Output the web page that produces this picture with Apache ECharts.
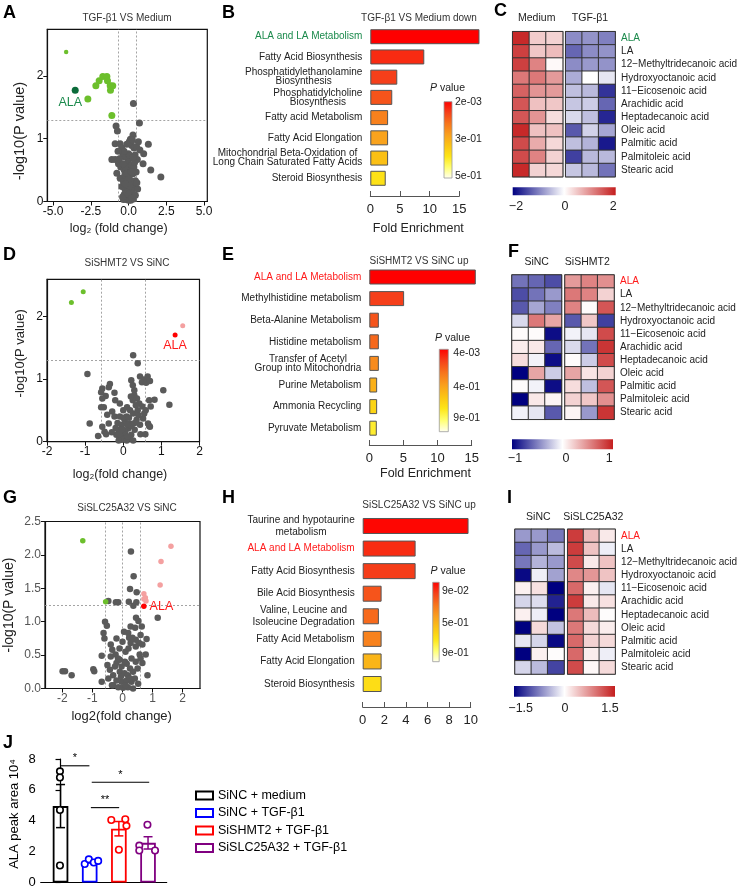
<!DOCTYPE html>
<html><head><meta charset="utf-8">
<script src="https://cdn.jsdelivr.net/npm/echarts@6/dist/echarts.min.js"></script>
<style>html,body{margin:0;padding:0;background:#fff}#c{width:740px;height:889px}</style>
</head><body><div id="c"></div>
<script>
// ================= DATA =================
// Panel A volcano (TGF-β1 VS Medium)
const aGray = [[-0.83,1.20],[-0.74,1.12],[0.32,1.56],[0.72,1.25],[0.29,1.06],[0.12,0.99],[-0.89,0.92],[-0.56,0.92],[-0.45,0.85],[-0.12,0.91],[0.21,0.89],[0.36,0.85],[0.53,0.87],[0.75,0.82],[1.31,0.91],[1.00,0.76],[-1.11,0.67],[-0.89,0.67],[-0.38,0.74],[-0.23,0.71],[0.00,0.76],[0.14,0.69],[0.43,0.74],[0.58,0.67],[0.96,0.60],[1.47,0.50],[2.14,0.39],[-0.67,0.60],[-0.52,0.55],[-0.78,0.45],[-0.29,0.50],[-0.12,0.44],[0.10,0.52],[0.29,0.44],[0.50,0.47],[-0.56,0.37],[-0.34,0.32],[-0.17,0.35],[0.00,0.29],[0.17,0.32],[0.36,0.26],[-0.45,0.24],[-0.23,0.19],[-0.06,0.21],[0.10,0.16],[0.25,0.20],[-0.29,0.11],[-0.12,0.08],[0.03,0.05],[0.17,0.09],[0.32,0.04],[-0.17,0.03],[0.00,0.02],[-0.34,0.03],[0.14,0.02],[-0.05,0.62],[0.05,0.40],[-0.20,0.55],[0.20,0.58],[-0.10,0.27],[0.25,0.12],[-0.25,0.42],[0.45,0.33],[0.60,0.20],[-0.40,0.07],[0.35,0.55],[0.08,0.73],[-0.30,0.80],[0.05,0.95],[0.65,0.95],[0.25,0.98],[-0.15,0.15],[0.12,0.33],[0.00,0.12],[-0.08,0.45],[0.18,0.47],[-0.60,0.68],[-0.70,0.80],[0.40,0.62],[0.55,0.30],[-0.05,0.35],[0.08,0.25],[0.20,0.05],[-0.22,0.28],[0.30,0.70],[-0.35,0.60],[0.45,0.10]];
const aGreen = [[-2.70,1.63],[-2.17,1.84],[-1.95,1.92],[-1.71,1.99],[-1.44,1.99],[-1.40,1.92],[-1.22,1.84],[-1.05,1.84],[-1.20,1.77],[-1.11,1.37]];
const aGreenSmall = [[-4.14,2.38]];
const aAla = [[-3.54,1.77]];
const aVLines = [-0.68, 0.5];
const aHLine = 1.301;

// Panel D volcano (SiSHMT2 VS SiNC)
const dGray = [[0.26,1.38],[0.38,1.25],[-0.94,1.08],[0.44,1.04],[0.54,0.99],[0.64,1.04],[0.49,0.95],[0.60,0.94],[0.70,0.97],[0.21,0.98],[0.25,0.90],[0.29,0.82],[0.29,0.74],[0.36,0.69],[0.25,0.66],[0.42,0.61],[0.50,0.56],[0.68,0.66],[0.72,0.56],[0.59,0.50],[0.82,0.67],[1.05,0.82],[1.21,0.59],[-0.55,0.85],[-0.58,0.79],[-0.35,0.92],[-0.38,0.87],[-0.46,0.73],[-0.55,0.69],[-0.23,0.78],[-0.21,0.66],[-0.58,0.55],[-0.51,0.55],[-0.42,0.43],[-0.29,0.48],[-0.23,0.40],[-0.38,0.29],[-0.55,0.24],[-0.88,0.29],[-0.49,0.16],[-0.66,0.09],[-0.45,0.12],[-0.09,0.61],[0.00,0.50],[-0.09,0.40],[0.04,0.35],[-0.04,0.27],[-0.13,0.19],[0.00,0.13],[0.13,0.21],[0.17,0.29],[0.09,0.40],[0.26,0.45],[0.35,0.35],[0.44,0.27],[0.52,0.37],[0.65,0.29],[0.70,0.24],[0.30,0.19],[0.21,0.11],[-0.09,0.06],[0.04,0.06],[0.17,0.06],[-0.18,0.11],[-0.04,0.03],[0.09,0.02],[0.05,0.15],[0.12,0.08],[-0.02,0.20],[0.22,0.25],[0.30,0.30],[-0.15,0.30],[0.10,0.55],[0.18,0.50],[0.38,0.50],[0.00,0.38],[-0.10,0.12],[0.15,0.38],[0.45,0.12],[0.58,0.12],[0.33,0.58],[0.20,0.72],[-0.20,0.22],[0.26,0.02],[-0.12,0.02],[0.40,0.42],[0.55,0.45],[-0.30,0.15],[0.68,0.25],[0.10,0.28]];
const dGreen = [[-1.36,2.22],[-1.05,2.39]];
const dPink = [[1.56,1.85]];
const dAla = [[1.36,1.70]];
const dVLines = [-0.585, 0.585];
const dHLine = 1.301;

// Panel G volcano (SiSLC25A32 VS SiNC)
const gGray = [[0.28,2.05],[0.37,1.68],[0.25,1.49],[0.47,1.44],[0.36,1.24],[-0.47,1.31],[-0.22,1.29],[-0.14,1.29],[0.21,1.30],[0.46,1.29],[1.17,1.06],[0.45,1.06],[0.53,1.01],[0.64,0.93],[0.42,0.91],[0.27,0.93],[0.19,0.83],[-0.58,1.00],[-0.52,0.94],[-0.63,0.83],[-0.39,0.66],[-0.34,0.58],[-0.39,0.48],[-0.69,0.49],[-0.23,0.51],[0.22,0.76],[0.33,0.76],[0.44,0.73],[0.55,0.68],[0.27,0.68],[0.44,0.63],[0.66,0.66],[0.80,0.74],[0.57,0.51],[0.77,0.51],[0.30,0.45],[0.44,0.40],[0.66,0.38],[0.83,0.20],[-1.99,0.26],[-1.91,0.26],[-1.69,0.20],[-0.97,0.29],[-0.94,0.26],[-0.69,0.10],[-0.20,0.38],[-0.03,0.33],[0.14,0.37],[0.25,0.30],[-0.09,0.25],[0.07,0.23],[0.18,0.20],[-0.31,0.20],[-0.42,0.28],[-0.47,0.15],[-0.20,0.12],[-0.03,0.10],[0.14,0.12],[0.30,0.10],[0.41,0.15],[0.52,0.07],[-0.14,0.02],[0.02,0.01],[0.18,0.02],[0.35,0.00],[-0.31,0.05],[0.08,0.40],[-0.09,0.43],[-0.25,0.33],[-0.10,0.60],[0.00,0.70],[0.10,0.55],[-0.20,0.75],[0.05,0.85],[0.60,0.80],[0.50,0.30],[0.60,0.45],[-0.50,0.35],[-0.60,0.75],[-0.05,0.18],[0.10,0.05],[0.25,0.15],[-0.15,0.45],[0.35,0.25],[0.20,0.60],[-0.35,0.05]];
const gGreen = [[-1.32,2.21],[-0.56,1.30]];
const gPink = [[1.61,2.13],[1.28,1.90],[1.25,1.55],[0.71,1.42],[0.76,1.36],[0.78,1.31],[0.71,1.34]];
const gAla = [[0.71,1.23]];
const gVLines = [-0.585, 0, 0.585];
const gHLine = 1.25;

// Enrichment bars (B, E, H)
const bCats = ['ALA and LA Metabolism','Fatty Acid Biosynthesis','Phosphatidylethanolamine\nBiosynthesis','Phosphatidylcholine\nBiosynthesis','Fatty acid Metabolism','Fatty Acid Elongation','Mitochondrial Beta-Oxidation of\nLong Chain Saturated Fatty Acids','Steroid Biosynthesis'];
const bFold = [18.4, 9.1, 4.55, 3.7, 3.0, 3.0, 3.0, 2.6];
const bP = [0.002, 0.05, 0.072, 0.1, 0.166, 0.226, 0.28, 0.35];
const bPTicks = ['2e-03','3e-01','5e-01'];

const eCats = ['ALA and LA Metabolism','Methylhistidine metabolism','Beta-Alanine Metabolism','Histidine metabolism','Transfer of Acetyl\nGroup into Mitochondria','Purine Metabolism','Ammonia Recycling','Pyruvate Metabolism'];
const eFold = [15.6, 5.1, 1.4, 1.4, 1.4, 1.15, 1.15, 1.1];
const eP = [0.004, 0.13, 0.18, 0.23, 0.33, 0.45, 0.58, 0.68];
const ePTicks = ['4e-03','4e-01','9e-01'];

const hCats = ['Taurine and hypotaurine\nmetabolism','ALA and LA Metabolism','Fatty Acid Biosynthesis','Bile Acid Biosynthesis','Valine, Leucine and\nIsoleucine Degradation','Fatty Acid Metabolism','Fatty Acid Elongation','Steroid Biosynthesis'];
const hFold = [9.8, 4.9, 4.9, 1.75, 1.5, 1.75, 1.75, 1.75];
const hP = [0.1, 0.17, 0.2, 0.25, 0.3, 0.36, 0.51, 0.64];
const hPTicks = ['9e-02','5e-01','9e-01'];

// Heatmaps (C, F, I)
const mets = ['ALA','LA','12\u2212Methyltridecanoic acid','Hydroxyoctanoic acid','11\u2212Eicosenoic acid','Arachidic acid','Heptadecanoic acid','Oleic acid','Palmitic acid','Palmitoleic acid','Stearic acid'];
const cMedium = [[1.9,0.45,0.4],[1.7,0.5,0.6],[1.7,1.1,0.05],[1.2,1.2,0.9],[1.4,0.95,0.9],[1.5,0.55,0.5],[1.5,0.95,0.3],[1.9,0.55,0.55],[1.6,0.75,0.35],[1.6,1.1,0.4],[1.9,0.4,0.35]];
const cTgf = [[-0.9,-0.85,-1.0],[-1.2,-0.9,-0.85],[-0.9,-0.8,-0.85],[-0.65,0.0,-0.2],[-0.5,-0.55,-1.6],[-0.45,-0.4,-1.2],[-0.3,-0.5,-1.7],[-1.3,-0.35,-0.7],[-0.5,-0.6,-1.8],[-1.5,-0.55,-0.55],[-0.45,-0.55,-1.1]];
const fSiNC = [[-0.55,-0.6,-0.7],[-0.7,-0.55,-0.4],[-0.65,-0.35,-0.5],[-0.15,0.6,0.4],[0.02,0.02,-0.95],[0.08,0.1,-0.6],[0.15,-0.05,-0.95],[-1.0,0.4,-0.2],[0.02,-0.05,-0.95],[-1.0,0.1,0.05],[-0.05,-0.1,-0.65]];
const fSiSHMT2 = [[0.45,0.55,0.5],[0.6,0.55,0.2],[0.55,0.02,0.75],[-0.65,0.25,-0.75],[-0.05,-0.1,0.8],[-0.15,-0.55,0.9],[0.02,-0.2,0.8],[0.4,0.12,0.2],[0.15,-0.25,0.75],[0.2,0.25,0.5],[0.05,-0.4,0.9]];
const iSiNC = [[-0.6,-0.6,-0.8],[-0.9,-0.6,-0.4],[-0.8,-0.45,-0.6],[-1.45,-0.1,-0.55],[0.1,0.2,-1.5],[-0.25,-0.2,-1.3],[0.1,-0.1,-1.5],[-1.5,0.25,-0.35],[-0.15,-0.25,-1.45],[-1.5,0.1,0.02],[-0.25,-0.4,-1.1]];
const iSiSLC = [[1.3,0.45,0.15],[1.3,0.4,-0.1],[1.2,0.15,0.4],[0.8,0.7,0.4],[1.0,0.1,-0.15],[1.3,0.15,0.2],[0.9,0.45,0.02],[0.9,0.25,0.12],[1.0,0.3,0.25],[1.0,0.12,-0.1],[1.2,0.05,0.25]];

// Panel J
const jGroups = ['SiNC + medium','SiNC + TGF-\u03b21','SiSHMT2 + TGF-\u03b21','SiSLC25A32 + TGF-\u03b21'];
const jPoints = [
  [[-0.02,7.2],[-0.02,6.8],[-0.02,4.7],[-0.02,1.1]],
  [[-0.17,1.2],[-0.03,1.5],[0.14,1.3],[0.29,1.4]],
  [[-0.26,4.05],[0.22,4.1],[0.26,3.67],[0.0,2.12]],
  [[-0.02,3.74],[-0.3,2.39],[-0.3,2.07],[0.24,2.07]]
];
const jSig = [[0,0.99,7.56,'*'],[1.07,3.04,6.49,'*'],[1.04,2.01,4.85,'**']];

// ================= STYLE =================
const FONT = '"Liberation Sans", Arial, Helvetica, sans-serif';
const GRAY = '#5a5a5a', LGREEN = '#6cbf2c', DGREEN = '#0b6b3a', PINK = '#f4a0a0', RED = '#ff0000';
const ALA_GREEN = '#1b8a4c', ALA_RED = '#ff1a1a';
const HEAT = ['#000080', '#ffffff', '#c41e1e'];
const PCOL = ['#ff0000','#f5401a','#f7741c','#f99e1e','#fbc314','#fde516','#ffff70','#fffff2'];
const JCOL = ['#000000','#0000ff','#ff0000','#800080'];

const grids = [], xAxes = [], yAxes = [], series = [], visualMaps = [], graphics = [];
function addGrid(g){ grids.push(g); return grids.length - 1; }

function txt(x, y, text, o){
  o = o || {};
  graphics.push({type:'text', x:x, y:y, rotation:o.rot||0, z:100, silent:true,
    style:{text:text, fontSize:o.size||10, fontFamily:FONT, fontWeight:o.weight||'normal',
      fill:o.color||'#222', align:o.align||'center', verticalAlign:o.valign||'middle', rich:o.rich}});
}

// ---------- volcano ----------
function volcano(o){
  const gi = addGrid({left:o.left, top:o.top, width:o.width, height:o.height, show:true, borderColor:'#111', borderWidth:1.2});
  xAxes.push({gridIndex:gi, type:'value', min:o.xr[0], max:o.xr[1],
    axisLine:{show:true, onZero:false, lineStyle:{color:'#111', width:1.2}},
    axisTick:{show:true, length:4, customValues:o.xticks, lineStyle:{color:'#111'}},
    axisLabel:{customValues:o.xticks, formatter:v=>Number(v).toFixed(o.xdec), fontSize:12, color:o.tickColor, margin:4, fontFamily:FONT},
    splitLine:{show:false}});
  yAxes.push({gridIndex:gi, type:'value', min:o.yr[0], max:o.yr[1],
    axisLine:{show:true, onZero:false, lineStyle:{color:'#111', width:1.2}},
    axisTick:{show:true, length:4, customValues:o.yticks, lineStyle:{color:'#111'}},
    axisLabel:{customValues:o.yticks, formatter:v=>Number(v).toFixed(o.ydec), fontSize:12, color:o.tickColor, margin:4, fontFamily:FONT},
    splitLine:{show:false}});
  const xi = xAxes.length-1, yi = yAxes.length-1;
  const ml = o.vlines.map(v=>({xAxis:v})).concat([{yAxis:o.hline}]);
  series.push({type:'scatter', xAxisIndex:xi, yAxisIndex:yi, data:o.gray, symbolSize:o.graySize, itemStyle:{color:GRAY, opacity:1}, z:2,
    markLine:{silent:true, symbol:['none','none'], label:{show:false}, lineStyle:{type:[2,2], color:'#9a9a9a', width:0.9}, data:ml, z:1}});
  o.layers.forEach(L=>{
    series.push({type:'scatter', xAxisIndex:xi, yAxisIndex:yi, data:L.data, symbolSize:L.size, itemStyle:{color:L.color, opacity:1}, z:3,
      label:L.label ? Object.assign({show:true, formatter:'ALA', fontFamily:FONT}, L.label) : {show:false}});
  });
}

volcano({left:47.3, top:29.3, width:160, height:172.2, xr:[-5.39,5.22], yr:[0,2.74], xticks:[-5,-2.5,0,2.5,5], yticks:[0,1,2], xdec:1, ydec:0,
  tickColor:'#111', gray:aGray, graySize:7, vlines:aVLines, hline:aHLine,
  layers:[{data:aGreen, size:7, color:LGREEN},{data:aGreenSmall, size:4.5, color:LGREEN},
          {data:aAla, size:7, color:DGREEN, label:{position:'bottom', distance:2, offset:[-5,0], color:ALA_GREEN, fontSize:12.5}}]});
volcano({left:47, top:279.3, width:152.5, height:162.4, xr:[-2,2], yr:[0,2.59], xticks:[-2,-1,0,1,2], yticks:[0,1,2], xdec:0, ydec:0,
  tickColor:'#111', gray:dGray, graySize:6.5, vlines:dVLines, hline:dHLine,
  layers:[{data:dGreen, size:5, color:LGREEN},{data:dPink, size:5, color:PINK},
          {data:dAla, size:5, color:RED, label:{position:'bottom', distance:1, color:ALA_RED, fontSize:12.5}}]});
volcano({left:45, top:521.5, width:155, height:167, xr:[-2.575,2.575], yr:[0,2.5], xticks:[-2,-1,0,1,2], yticks:[0,0.5,1,1.5,2,2.5], xdec:0, ydec:1,
  tickColor:'#555', gray:gGray, graySize:6.5, vlines:gVLines, hline:gHLine,
  layers:[{data:gGreen, size:5.5, color:LGREEN},{data:gPink, size:5.5, color:PINK},
          {data:gAla, size:5.5, color:RED, label:{position:'right', distance:3, color:ALA_RED, fontSize:12.5}}]});

// ---------- enrichment bars ----------
function barPanel(o){
  const gi = addGrid({left:o.left, top:o.top, width:o.width, height:o.height});
  xAxes.push({gridIndex:gi, type:'value', min:0, max:o.max, interval:o.interval, position:'bottom', offset:o.offset,
    axisLine:{show:true, lineStyle:{color:'#555', width:1}},
    axisTick:{show:true, inside:true, length:5, lineStyle:{color:'#555'}},
    axisLabel:{fontSize:13, color:'#222', margin:7, fontFamily:FONT}, splitLine:{show:false}});
  yAxes.push({gridIndex:gi, type:'category', data:o.cats, inverse:true,
    axisLine:{show:false}, axisTick:{show:false},
    axisLabel:{interval:0, margin:8, fontSize:10, color:'#222', fontFamily:FONT,
      formatter:v=> v==='ALA and LA Metabolism' ? '{hl|'+v+'}' : v.split('\n').map(l=>'{c|'+l+'}').join('\n'),
      rich:{c:{align:'center', fontSize:10, lineHeight:o.lh, color:'#222', fontFamily:FONT}, hl:{fontSize:10, color:o.hl, fontFamily:FONT}}}});
  const xi = xAxes.length-1, yi = yAxes.length-1;
  series.push({type:'bar', xAxisIndex:xi, yAxisIndex:yi, data:o.cats.map((c,i)=>[o.fold[i], c, o.p[i]]), encode:{x:0, y:1},
    barWidth:o.bw, clip:false, itemStyle:{borderColor:'#555', borderWidth:1}, z:2});
  visualMaps.push({type:'continuous', show:false, seriesIndex:series.length-1, dimension:2, min:o.pmin, max:o.pmax, inRange:{color:PCOL}});
  // P value colour bar
  const cb = o.cb;
  graphics.push({type:'rect', shape:{x:cb.x, y:cb.y, width:cb.w, height:cb.h}, z:100, silent:true,
    style:{fill:new echarts.graphic.LinearGradient(0,0,0,1, PCOL.map((c,i)=>({offset:i/(PCOL.length-1), color:c}))), stroke:'#9a9a9a', lineWidth:0.8}});
  txt(cb.px, cb.py, '{i|P} value', {size:10.5, rich:{i:{fontStyle:'italic', fontSize:10.5, fontFamily:FONT, fill:'#222'}}});
  o.pticks.forEach((t,i)=> txt(cb.lx, cb.ly[i], t, {size:10.5, align:'left'}));
}

barPanel({left:370.3, top:26.6, width:89, height:161.8, max:15, interval:5, offset:7.6, cats:bCats, fold:bFold, p:bP, pmin:0.002, pmax:0.5,
  bw:15, lh:9, hl:ALA_GREEN, pticks:bPTicks, cb:{x:444, y:101.7, w:8, h:76.3, px:447.5, py:88, lx:455, ly:[102,139,176]}});
barPanel({left:369.3, top:266.2, width:102.4, height:172.8, max:15, interval:5, offset:6, cats:eCats, fold:eFold, p:eP, pmin:0.004, pmax:0.9,
  bw:15, lh:9, hl:ALA_RED, pticks:ePTicks, cb:{x:439.3, y:349.3, w:9, h:82.4, px:452.5, py:337.7, lx:453.3, ly:[353,386.7,418.3]}});
barPanel({left:362.7, top:514.7, width:108, height:180.6, max:10, interval:2, offset:11.7, cats:hCats, fold:hFold, p:hP, pmin:0.09, pmax:0.9,
  bw:16, lh:12, hl:ALA_RED, pticks:hPTicks, cb:{x:432.7, y:582.3, w:6.5, h:79.4, px:448, py:571, lx:442, ly:[590.7,623.3,653.3]}});

// ---------- heatmaps ----------
function heatPanel(o){
  const idx = [];
  [o.left1, o.left2].forEach((L,k)=>{
    const gi = addGrid({left:L, top:o.top, width:o.w[k], height:o.height, show:true, borderColor:'#333', borderWidth:1.2});
    xAxes.push({gridIndex:gi, type:'category', data:['1','2','3'], show:false});
    yAxes.push({gridIndex:gi, type:'category', data:mets, inverse:true, position:'right', show:k===1,
      axisLine:{show:false}, axisTick:{show:false},
      axisLabel:{show:k===1, interval:0, margin:6, fontSize:10, color:'#222', fontFamily:FONT,
        formatter:v=> v==='ALA' ? '{hl|ALA}' : v, rich:{hl:{fontSize:10, color:o.hl, fontFamily:FONT}}}});
    const vals = k===0 ? o.v1 : o.v2;
    series.push({type:'heatmap', xAxisIndex:xAxes.length-1, yAxisIndex:yAxes.length-1,
      data:vals.flatMap((row,r)=>row.map((v,c)=>[c,r,v])), itemStyle:{borderColor:'#333', borderWidth:1}});
    idx.push(series.length-1);
  });
  visualMaps.push({type:'continuous', show:false, seriesIndex:idx, dimension:2, min:o.min, max:o.max, inRange:{color:HEAT}});
  const cb = o.cb;
  graphics.push({type:'rect', shape:{x:cb.x, y:cb.y, width:cb.w, height:cb.h}, z:100, silent:true,
    style:{fill:new echarts.graphic.LinearGradient(0,0,1,0, HEAT.map((c,i)=>({offset:i/(HEAT.length-1), color:c}))), stroke:null}});
  o.ticks.forEach((t,i)=> txt(cb.lx[i], cb.ly, t, {size:12.5}));
  txt(o.h1[0], o.h1[1], o.heads[0], {size:10.5});
  txt(o.h2[0], o.h2[1], o.heads[1], {size:10.5});
}

heatPanel({left1:512.7, left2:565.7, w:[50,50], top:31.7, height:145, v1:cMedium, v2:cTgf, min:-2, max:2, hl:ALA_GREEN,
  heads:['Medium','TGF-\u03b21'], h1:[536.7,18.3], h2:[590,18.3], ticks:['\u22122','0','2'],
  cb:{x:512.7, y:187.3, w:103, h:8, lx:[516,565,613.3], ly:206.7}});
heatPanel({left1:512, left2:565, w:[49.5,49], top:275, height:144.3, v1:fSiNC, v2:fSiSHMT2, min:-1, max:1, hl:ALA_RED,
  heads:['SiNC','SiSHMT2'], h1:[536.7,261.7], h2:[587.3,261.7], ticks:['\u22121','0','1'],
  cb:{x:512, y:439.3, w:101, h:10, lx:[515,566,609.3], ly:458.3}});
heatPanel({left1:515, left2:567.7, w:[49,49], top:529.3, height:144.7, v1:iSiNC, v2:iSiSLC, min:-1.5, max:1.5, hl:ALA_RED,
  heads:['SiNC','SiSLC25A32'], h1:[538.3,516.7], h2:[593.3,516.7], ticks:['\u22121.5','0','1.5'],
  cb:{x:514, y:686, w:101, h:10.7, lx:[520.7,565,610], ly:708.3}});

// ---------- panel J ----------
const jStats = jPoints.map(pts=>{
  const ys = pts.map(p=>p[1]); const n = ys.length;
  const m = ys.reduce((a,b)=>a+b,0)/n;
  const sd = Math.sqrt(ys.reduce((a,b)=>a+(b-m)*(b-m),0)/(n-1));
  return {mean:m, sem:sd/Math.sqrt(n)};
});
(function(){
  const gi = addGrid({left:40.7, top:759, width:126, height:125});
  xAxes.push({gridIndex:gi, type:'value', min:-0.68, max:3.64, axisLine:{show:true, onZero:false, lineStyle:{color:'#000', width:1.2}},
    axisTick:{show:false}, axisLabel:{show:false}, splitLine:{show:false}});
  yAxes.push({gridIndex:gi, type:'value', min:0, max:8, interval:2, axisLine:{show:true, lineStyle:{color:'#000', width:1.2}},
    axisTick:{show:true, length:5, lineStyle:{color:'#000', width:1.2}}, axisLabel:{fontSize:13, color:'#000', margin:5, fontFamily:FONT},
    splitLine:{show:false}});
  const xi = xAxes.length-1, yi = yAxes.length-1;
  jGroups.forEach((g,i)=>{
    series.push({type:'bar', name:g, xAxisIndex:xi, yAxisIndex:yi, data:[[i, jStats[i].mean]], barWidth:15.6, barGap:'-100%',
      itemStyle:{color:'#ffffff', borderColor:JCOL[i], borderWidth:1.8}, z:2});
  });
  series.push({type:'custom', xAxisIndex:xi, yAxisIndex:yi, data:jStats.map((s,i)=>[i, s.mean, s.sem]), z:5,
    renderItem:(params, api)=>{
      const x = api.value(0), m = api.value(1), e = api.value(2);
      const t = api.coord([x, m+e]), b = api.coord([x, m-e]); const hw = 4.5; const c = JCOL[params.dataIndex];
      const st = {stroke:c, lineWidth:1.5};
      return {type:'group', children:[
        {type:'line', shape:{x1:t[0], y1:t[1], x2:b[0], y2:b[1]}, style:st},
        {type:'line', shape:{x1:t[0]-hw, y1:t[1], x2:t[0]+hw, y2:t[1]}, style:st},
        {type:'line', shape:{x1:b[0]-hw, y1:b[1], x2:b[0]+hw, y2:b[1]}, style:st}]};
    }});
  jPoints.forEach((pts,i)=>{
    series.push({type:'scatter', xAxisIndex:xi, yAxisIndex:yi, data:pts.map(p=>[i+p[0], p[1]]), symbolSize:6.5, z:6,
      itemStyle:{color:'#ffffff', borderColor:JCOL[i], borderWidth:1.6, opacity:1}});
  });
  series.push({type:'custom', xAxisIndex:xi, yAxisIndex:yi, data:jSig, z:6,
    renderItem:(params, api)=>{
      const a = api.coord([api.value(0), api.value(2)]), b = api.coord([api.value(1), api.value(2)]);
      const lab = jSig[params.dataIndex][3];
      return {type:'group', children:[
        {type:'line', shape:{x1:a[0], y1:a[1], x2:b[0], y2:b[1]}, style:{stroke:'#000', lineWidth:1.1}},
        {type:'text', x:(a[0]+b[0])/2, y:a[1]-2, style:{text:lab, fontSize:11, fontFamily:FONT, fill:'#000', align:'center', verticalAlign:'bottom'}}]};
    }});
})();

// ---------- text ----------
[['A',3,13],['B',222,13],['C',494,11],['D',3,255],['E',222,255],['F',508,252],['G',3,498],['H',222,498],['I',507,498],['J',3,743]]
  .forEach(l=>txt(l[1], l[2], l[0], {size:18, weight:'bold', align:'left', color:'#000'}));
txt(127, 18.3, 'TGF-\u03b21 VS Medium', {size:10, color:'#333'});
txt(127, 263.3, 'SiSHMT2 VS SiNC', {size:10, color:'#333'});
txt(127, 508.3, 'SiSLC25A32 VS SiNC', {size:10, color:'#333'});
txt(419, 18.3, 'TGF-\u03b21 VS Medium down', {size:10, color:'#333'});
txt(419, 261, 'SiSHMT2 VS SiNC up', {size:10, color:'#333'});
txt(419, 505, 'SiSLC25A32 VS SiNC up', {size:10, color:'#333'});
txt(20, 131, '-log10(P value)', {size:14.5, rot:Math.PI/2});
txt(20, 353.3, '-log10(P value)', {size:13, rot:Math.PI/2});
txt(9, 605, '-log10(P value)', {size:14, rot:Math.PI/2});
txt(118.7, 228.3, 'log\u2082 (fold change)', {size:12.5});
txt(120, 474.3, 'log\u2082(fold change)', {size:12.5});
txt(121.7, 716, 'log2(fold change)', {size:13});
txt(418.3, 228.3, 'Fold Enrichment', {size:12.5});
txt(425.5, 473.3, 'Fold Enrichment', {size:12.5});
txt(14, 814, 'ALA peak area 10\u2074', {size:13, rot:Math.PI/2, color:'#000'});

const chart = echarts.init(document.getElementById('c'));
chart.setOption({
  animation:false,
  backgroundColor:'#fff',
  textStyle:{fontFamily:FONT},
  grid:grids, xAxis:xAxes, yAxis:yAxes, series:series, visualMap:visualMaps, graphic:graphics,
  legend:{data:jGroups, orient:'vertical', left:190, top:784, itemWidth:17, itemHeight:8, itemGap:4.5, icon:'rect',
    textStyle:{fontSize:12.5, color:'#000', fontFamily:FONT}}
});
</script></body></html>
